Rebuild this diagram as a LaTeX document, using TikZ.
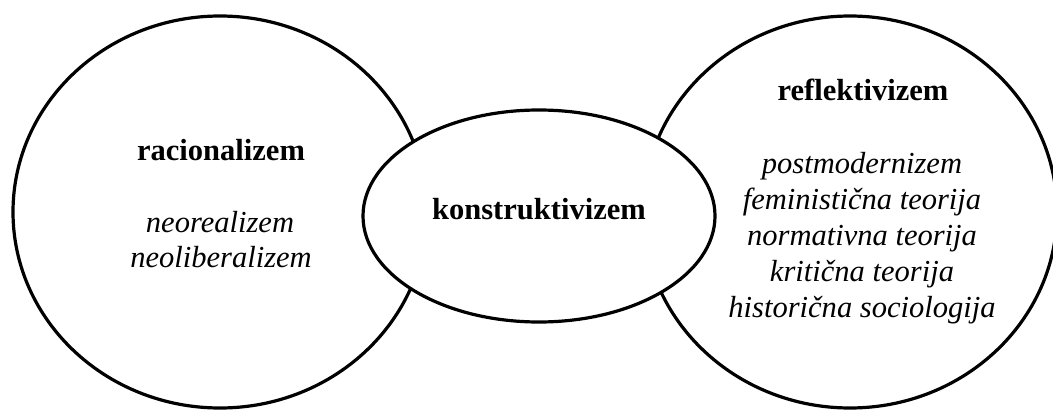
\documentclass[tikz,border=0pt]{standalone}
\usepackage{fontspec}
\setmainfont{Liberation Serif}
\usetikzlibrary{shapes.geometric}
\begin{document}
\begin{tikzpicture}[x=0.75pt,y=-0.75pt,
  ring/.style={ellipse,draw=black,fill=white,line width=2.4pt,inner sep=0pt,outer sep=0pt},
  ttl/.style={anchor=base,inner sep=0pt,font=\fontsize{22.9}{26.5}\selectfont\bfseries},
  itm/.style={anchor=base,inner sep=0pt,font=\fontsize{22.9}{26.5}\selectfont\itshape}]
\useasboundingbox (0,0) rectangle (1053,410);
\node[ring,minimum width=310.5pt,minimum height=294pt] (left) at (220,212) {};
\node[ring,minimum width=310.5pt,minimum height=294pt] (right) at (850,212) {};
\node[ring,minimum width=264pt,minimum height=159pt] (mid) at (539,216) {};
\node[ttl] (rac) at (221,160) {racionalizem};
\node[itm] (neor) at (220,232) {neorealizem};
\node[itm] (neol) at (221,267) {neoliberalizem};
\node[ttl] (kon) at (539,219) {konstruktivizem};
\node[ttl] (ref) at (863,100) {reflektivizem};
\node[itm] (pm) at (862,173) {postmodernizem};
\node[itm] (fem) at (862,209) {feministična teorija};
\node[itm] (nor) at (862,245) {normativna teorija};
\node[itm] (kri) at (862,281) {kritična teorija};
\node[itm] (his) at (862,317) {historična sociologija};
\end{tikzpicture}
\end{document}
